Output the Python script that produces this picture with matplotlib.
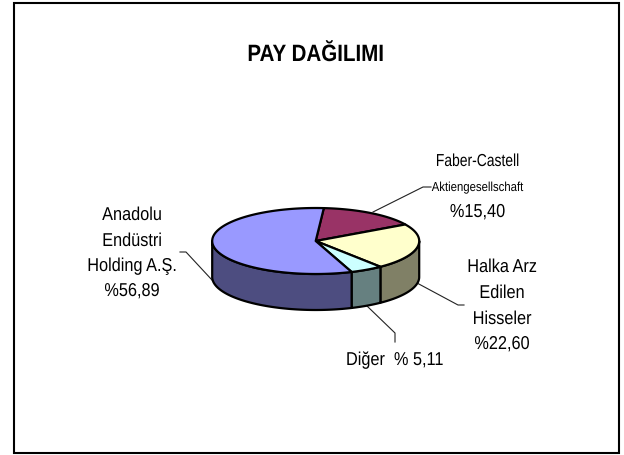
import numpy as np
import matplotlib
matplotlib.use("Agg")
from matplotlib import pyplot as plt
from matplotlib.patches import Polygon, Rectangle
from matplotlib.patheffects import AbstractPathEffect
from matplotlib.transforms import Affine2D

plt.rcParams['font.family'] = ['Liberation Sans', 'DejaVu Sans']

# pie shares, clockwise from the start angle
names = ["Faber-Castell", "Halka Arz", "Diğer", "Anadolu"]
shares = [15.40, 22.60, 5.11, 56.89]
top_colors = ["#993366", "#FFFFCC", "#CCFFFF", "#9999FF"]
side_colors = ["#4D1933", "#808066", "#668080", "#4D4D80"]

title = "PAY DAĞILIMI"

# pie geometry in pixels
cx, cy = 315.7, 241
rx, ry = 103.5, 33
depth = 36
start = 4.5


def edge(deg):
    # deg runs clockwise from the top of the ellipse
    t = np.radians(deg)
    return cx + rx * np.sin(t), cy - ry * np.cos(t)


class Squeeze(AbstractPathEffect):
    # the reference font is narrower than Liberation Sans
    def __init__(self, x0, k):
        super().__init__()
        self.x0, self.k = x0, k

    def draw_path(self, renderer, gc, tpath, affine, rgbFace=None):
        s = Affine2D().translate(-self.x0, 0).scale(self.k, 1).translate(self.x0, 0)
        renderer.draw_path(gc, tpath, affine + s, rgbFace)


def label(x, y, txt, size, k=0.875, **kw):
    t = ax.text(x, y, txt, ha="center", va="baseline", fontsize=size, **kw)
    t.set_path_effects([Squeeze(x, k)])


fig = plt.figure(figsize=(6.24, 4.55), dpi=100, facecolor="white")
ax = fig.add_axes([0, 0, 1, 1])
ax.set_xlim(0, 624)
ax.set_ylim(455, 0)
ax.axis("off")

ax.add_patch(Rectangle((13.5, 2.5), 605.5, 450.5, fill=False, ec="black", lw=1.5))

angles = start + np.concatenate([[0], np.cumsum(shares)]) * 3.6

# side wall, only the part facing the viewer (90..270 deg)
for i in range(len(shares)):
    a0, a1 = max(angles[i], 90), min(angles[i + 1], 270)
    if a1 <= a0:
        continue
    tt = np.linspace(a0, a1, 80)
    xs, ys = edge(tt)
    pts = np.r_[np.c_[xs, ys], np.c_[xs[::-1], ys[::-1] + depth]]
    ax.add_patch(Polygon(pts, closed=True, fc=side_colors[i], ec="black", lw=1.6, joinstyle="round", zorder=2))

# top faces
for i in range(len(shares)):
    tt = np.linspace(angles[i], angles[i + 1], 120)
    xs, ys = edge(tt)
    pts = np.r_[[[cx, cy]], np.c_[xs, ys]]
    ax.add_patch(Polygon(pts, closed=True, fc=top_colors[i], ec="black", lw=1.6, joinstyle="round", zorder=3))

# leader lines
leaders = [
    ([373, 423, 431], [212, 187, 187]),
    ([417, 458, 464], [283, 305, 305]),
    ([367, 395, 395], [306, 333, 342]),
    ([180, 186, 212], [252, 252, 280]),
]
for lx, ly in leaders:
    ax.plot(lx, ly, color="#222222", lw=0.8, zorder=1)

label(316, 61, title, 17, k=0.87, fontweight="bold")

label(477.5, 166, "Faber-Castell", 12.5, k=0.8)
label(477.5, 191, "Aktiengesellschaft", 9.4, k=0.87)
label(477.5, 217, "%15,40", 13.5, k=0.87)

for txt, y in zip(["Anadolu", "Endüstri", "Holding A.Ş.", "%56,89"], [220, 246, 271, 296]):
    label(132, y, txt, 13.4)

for txt, y in zip(["Halka Arz", "Edilen", "Hisseler", "%22,60"], [272, 298, 324, 349]):
    label(502, y, txt, 13.4)

label(394.5, 365, "Diğer  % 5,11", 13.4)

fig.savefig("out.png", dpi=100)
